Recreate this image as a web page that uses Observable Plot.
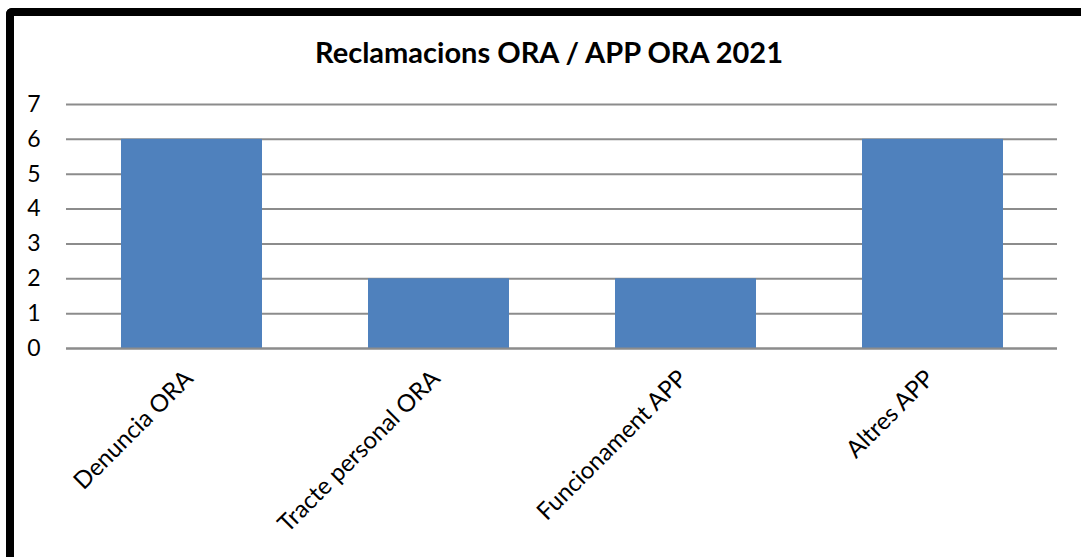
<!DOCTYPE html>
<html>
<head>
<meta charset="utf-8">
<script src="https://cdn.jsdelivr.net/npm/d3@7"></script>
<script src="https://cdn.jsdelivr.net/npm/@observablehq/plot@0.6"></script>
<style>
  html, body { margin: 0; padding: 0; background: #fff; overflow: hidden; }
  #wrap { position: relative; width: 1081px; height: 557px; }
  #border { position: absolute; left: 6px; top: 8px; width: 1200px; height: 700px;
            border-left: 8px solid #000; border-top: 8px solid #000; border-top-left-radius: 6px; box-sizing: border-box; }
  #chart { position: absolute; left: 0; top: 0; }
</style>
</head>
<body>
<div id="wrap"><div id="chart"></div><div id="border"></div></div>
<script>
const title = "Reclamacions ORA / APP ORA 2021";
const categories = ["Denuncia ORA", "Tracte personal ORA", "Funcionament APP", "Altres APP"];
const values = [6, 2, 2, 6];
const yTicks = [0, 1, 2, 3, 4, 5, 6, 7];

const data = categories.map((c, i) => ({category: c, value: values[i]}));

const chart = Plot.plot({
  width: 1081,
  height: 557,
  marginLeft: 66,
  marginRight: 24,
  marginTop: 104,
  marginBottom: 209,
  style: {fontFamily: "Lato, 'Open Sans', sans-serif", background: "transparent"},
  x: {domain: categories, paddingInner: 0.43, paddingOuter: 0.215, axis: null, label: null},
  y: {domain: [0, 7], axis: null, label: null},
  marks: [
    Plot.ruleY(yTicks, {stroke: "#8c8c8c", strokeWidth: 2}),
    Plot.barY(data, {x: "category", y: "value", fill: "#4F81BD"}),
    Plot.ruleY([0], {stroke: "#8c8c8c", strokeWidth: 2}),
    Plot.axisY(yTicks, {tickSize: 0, tickPadding: 26, fontSize: 23, fill: "#000", label: null, tickFormat: d => String(d)}),
    Plot.axisX({tickSize: 0, tickRotate: -45, tickPadding: 26, dx: -3, fontSize: 24, fill: "#000", label: null}),
    Plot.text([title], {frameAnchor: "top", dy: -51, dx: -13, lineAnchor: "middle", fontSize: 29, fontWeight: "bold", fill: "#000"})
  ]
});
document.getElementById("chart").appendChild(chart);
</script>
</body>
</html>
